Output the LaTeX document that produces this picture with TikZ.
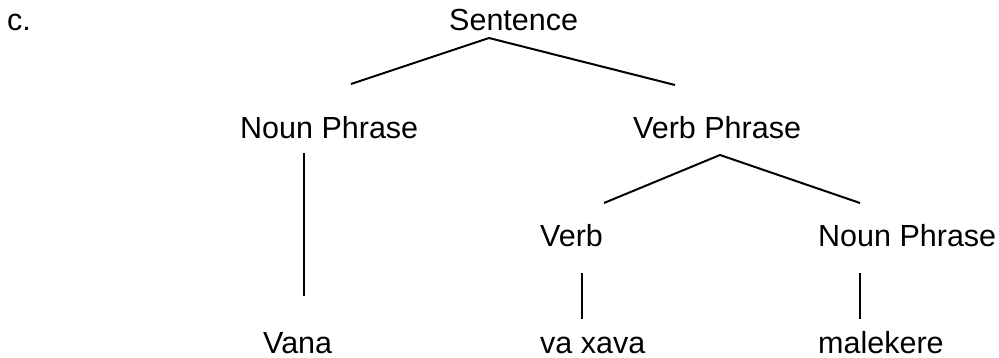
\documentclass[tikz,border=0pt]{standalone}
\usepackage{fontspec}
\setmainfont{Liberation Sans}
\begin{document}
\begin{tikzpicture}[x=1pt,y=-1pt,
  lbl/.style={anchor=base west,inner sep=0pt,font=\fontsize{30.5}{36}\selectfont},
  branch/.style={line width=2pt}]
\useasboundingbox (0,0) rectangle (999,358);
% labels
\node[lbl] (c) at (7,31) {c.};
\node[lbl] (s) at (449,31) {Sentence};
\node[lbl] (np1) at (240,139) {Noun Phrase};
\node[lbl] (vp) at (633,139) {Verb Phrase};
\node[lbl] (v) at (540,247) {Verb};
\node[lbl] (np2) at (818,247) {Noun Phrase};
\node[lbl] (vana) at (263,353) {Vana};
\node[lbl] (vx) at (540,353) {va xava};
\node[lbl] (mal) at (818,353) {malekere};
% connector end points
\coordinate (s-bot) at (489,38);
\coordinate (np1-top) at (351,84);
\coordinate (vp-top) at (675,85);
\coordinate (np1-bot) at (304,153);
\coordinate (vana-top) at (304,296);
\coordinate (vp-bot) at (720,155);
\coordinate (v-top) at (604,203);
\coordinate (np2-top) at (860,203);
\coordinate (v-bot) at (582,273);
\coordinate (vx-top) at (582,319);
\coordinate (np2-bot) at (860,273);
\coordinate (mal-top) at (860,319);
% connectors
\draw[branch] (np1-top) -- (s-bot) -- (vp-top);
\draw[branch] (np1-bot) -- (vana-top);
\draw[branch] (v-top) -- (vp-bot) -- (np2-top);
\draw[branch] (v-bot) -- (vx-top);
\draw[branch] (np2-bot) -- (mal-top);
\end{tikzpicture}
\end{document}
